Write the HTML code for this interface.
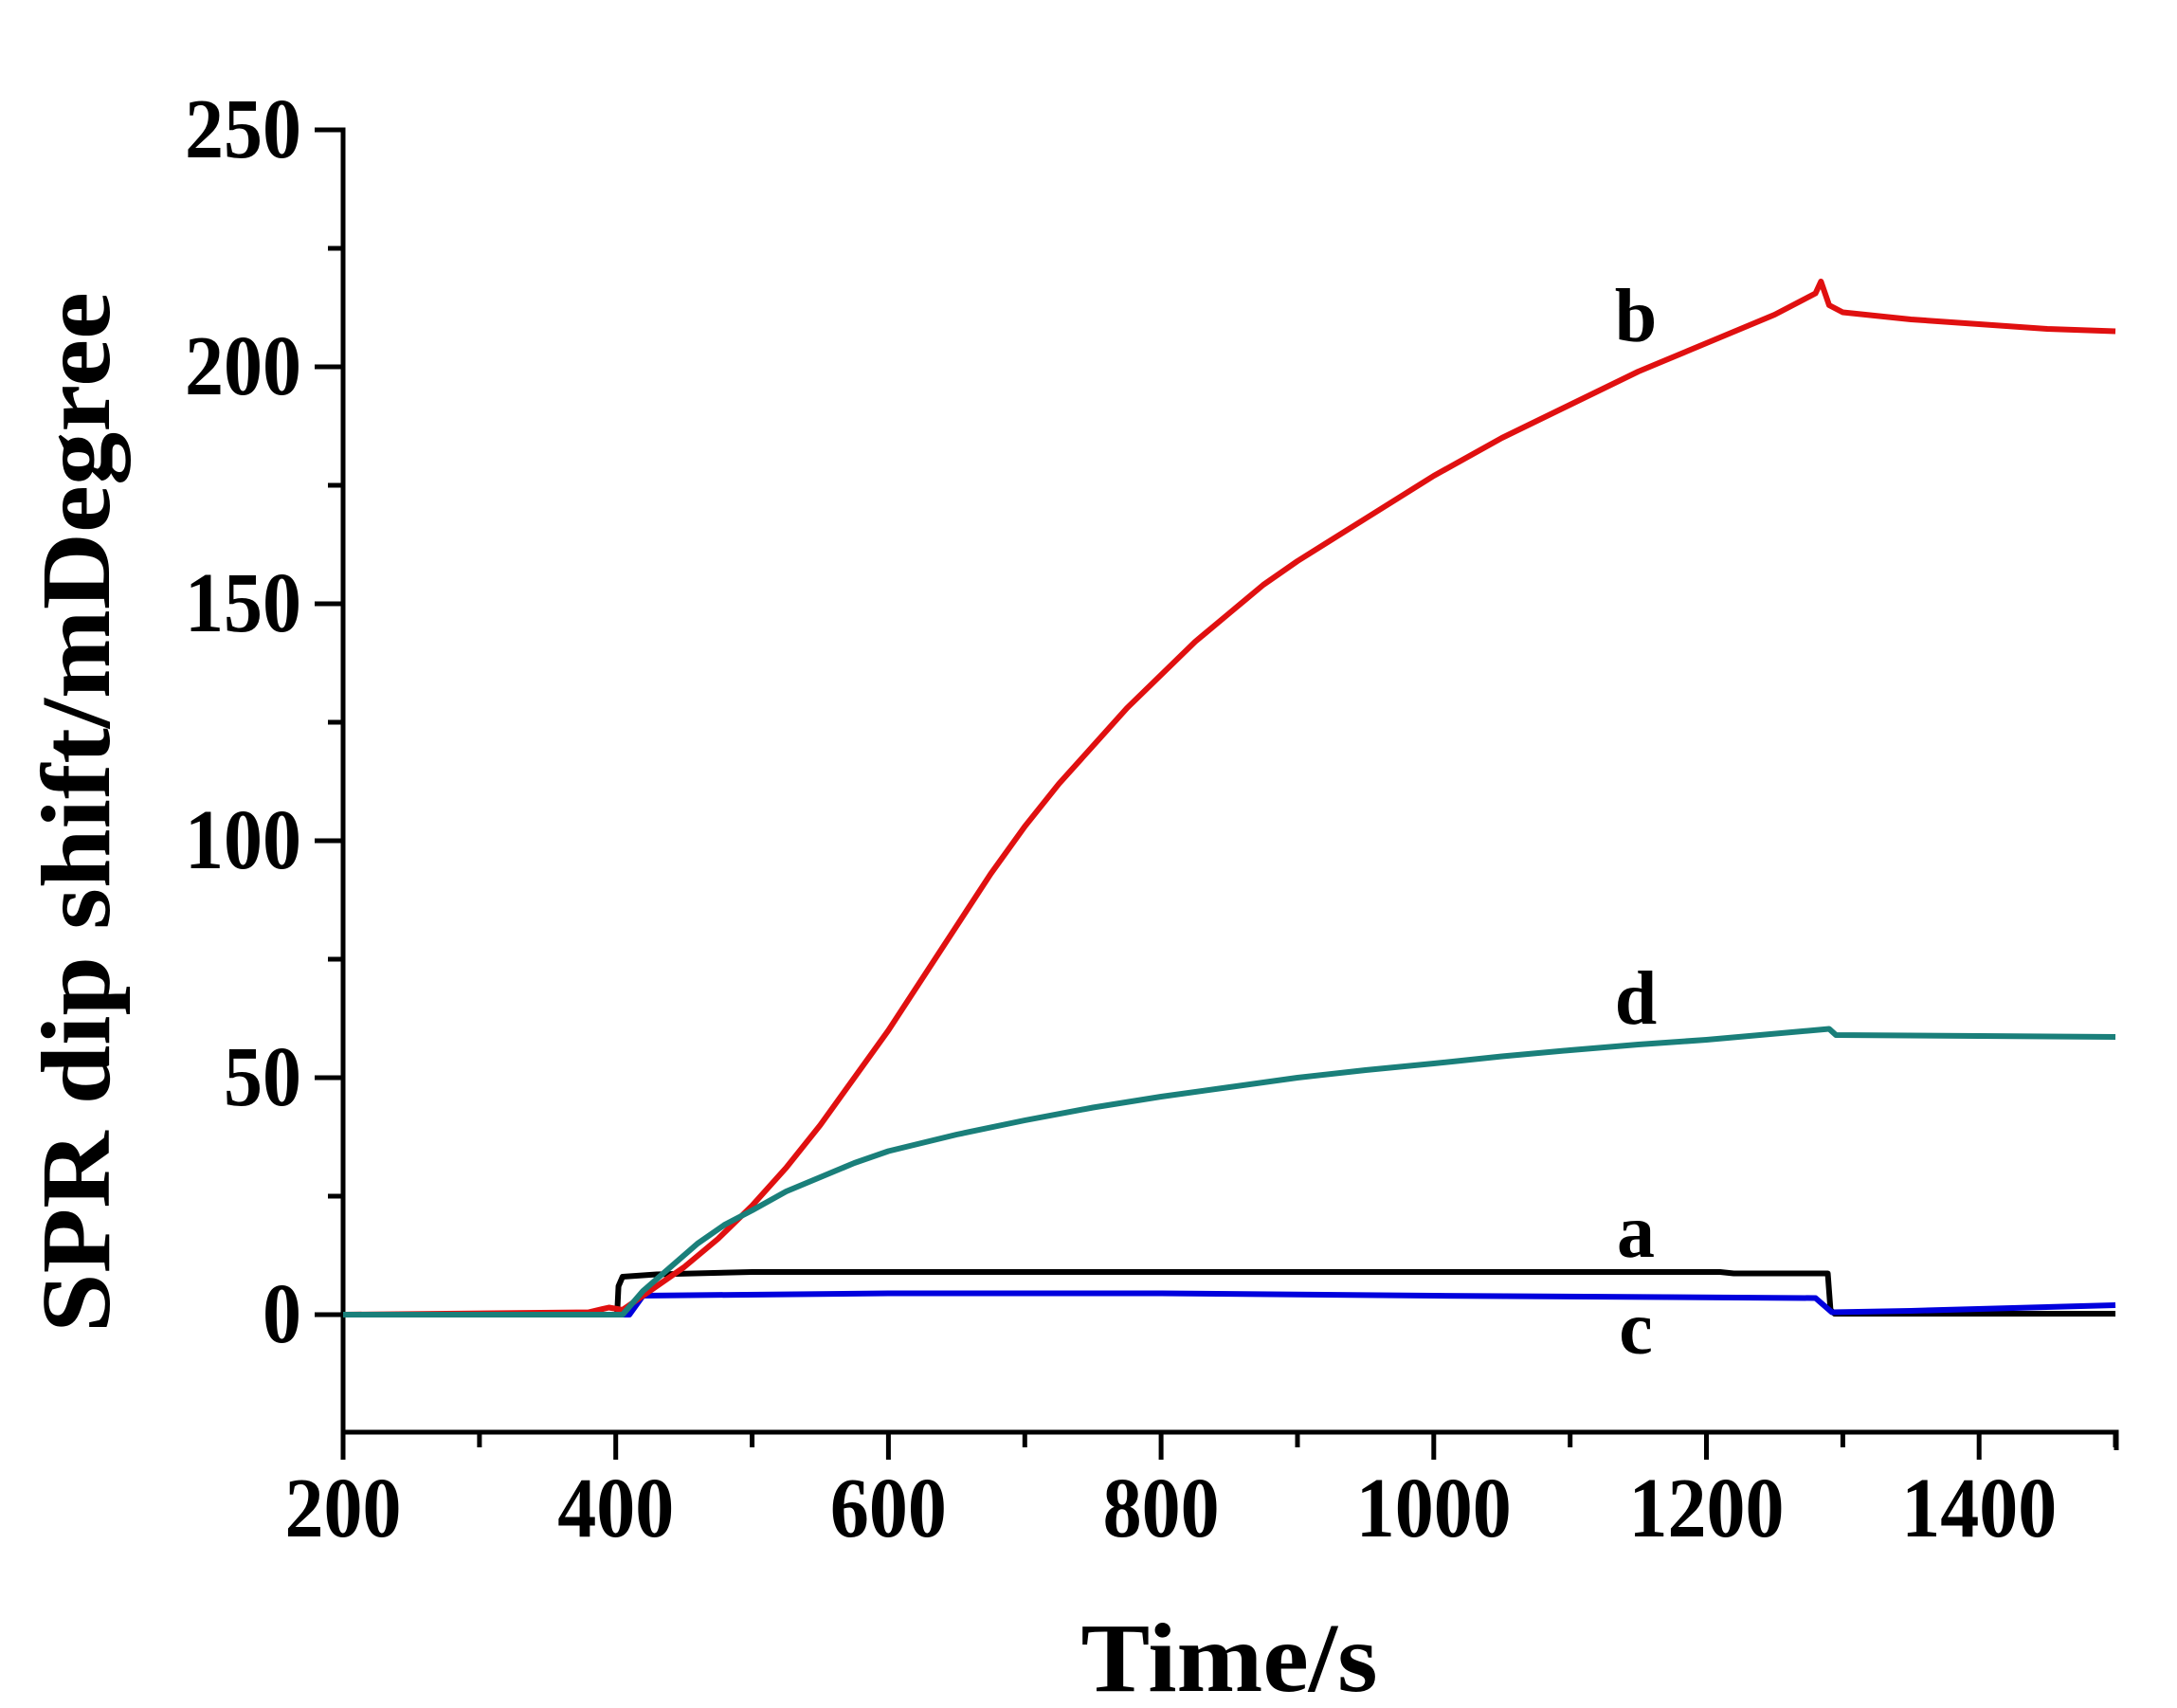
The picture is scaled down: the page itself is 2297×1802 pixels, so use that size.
<!DOCTYPE html>
<html><head><meta charset="utf-8"><style>html,body{margin:0;padding:0;background:#fff}svg{display:block}</style></head>
<body>
<svg width="2297" height="1802" viewBox="0 0 2297 1802" xmlns="http://www.w3.org/2000/svg" font-family="'Liberation Serif', serif" font-weight="bold">
<rect width="2297" height="1802" fill="#fff"/>
<g stroke="#000" stroke-width="5" fill="none">
<path d="M332 137 H362 V1511 H2233 V1530"/>
<path d="M332 387 H362 M332 637 H362 M332 887 H362 M332 1137 H362 M332 1387 H362"/>
<path d="M346 262 H362 M346 512 H362 M346 762 H362 M346 1012 H362 M346 1262 H362"/>
<path d="M362 1511 V1540 M649.7 1511 V1540 M937.4 1511 V1540 M1225.1 1511 V1540 M1512.8 1511 V1540 M1800.5 1511 V1540 M2088.2 1511 V1540"/>
<path d="M505.9 1511 V1527 M793.6 1511 V1527 M1081.3 1511 V1527 M1369 1511 V1527 M1656.7 1511 V1527 M1944.4 1511 V1527 M2232 1511 V1527"/>
</g>
<g font-size="82" text-anchor="end" fill="#000">
<text x="318" y="0" transform="translate(0 166) scale(1 1.1)">250</text>
<text x="318" y="0" transform="translate(0 416) scale(1 1.1)">200</text>
<text x="318" y="0" transform="translate(0 666) scale(1 1.1)">150</text>
<text x="318" y="0" transform="translate(0 916) scale(1 1.1)">100</text>
<text x="318" y="0" transform="translate(0 1166) scale(1 1.1)">50</text>
<text x="318" y="0" transform="translate(0 1416) scale(1 1.1)">0</text>
</g>
<g font-size="82" text-anchor="middle" fill="#000">
<text x="362" y="0" transform="translate(0 1621) scale(1 1.1)">200</text>
<text x="649.7" y="0" transform="translate(0 1621) scale(1 1.1)">400</text>
<text x="937.4" y="0" transform="translate(0 1621) scale(1 1.1)">600</text>
<text x="1225.1" y="0" transform="translate(0 1621) scale(1 1.1)">800</text>
<text x="1512.8" y="0" transform="translate(0 1621) scale(1 1.1)">1000</text>
<text x="1800.5" y="0" transform="translate(0 1621) scale(1 1.1)">1200</text>
<text x="2088.2" y="0" transform="translate(0 1621) scale(1 1.1)">1400</text>
</g>
<text x="1297" y="1784" font-size="104" text-anchor="middle" textLength="313" lengthAdjust="spacingAndGlyphs">Time/s</text>
<text transform="translate(115 857) rotate(-90)" font-size="104" text-anchor="middle" textLength="1098" lengthAdjust="spacingAndGlyphs">SPR dip shift/mDegree</text>
<g font-size="80" text-anchor="middle">
<text x="1726" y="360">b</text>
<text x="1726" y="1080">d</text>
<text x="1726" y="1326">a</text>
<text x="1726" y="1428">c</text>
</g>
<g fill="none" stroke-width="6" stroke-linejoin="round" transform="matrix(1.4385 0 0 -5 74.3 1387)">
<polyline vector-effect="non-scaling-stroke" stroke="#000" points="200,0 401,0 402,6 405,8 430,8.5 500,9 1210,9 1220,8.7 1289,8.7 1291,1 1294,0.2 1500,0.2"/>
<polyline vector-effect="non-scaling-stroke" stroke="#0000dd" points="200,0 410,0 420,4 600,4.5 800,4.5 1000,4 1280,3.5 1292,0.5 1350,0.8 1500,2"/>
<polyline vector-effect="non-scaling-stroke" stroke="#e01010" points="200,0 380,0.5 395,1.5 405,1 420,4 450,10 475,16 500,23 525,31 550,40 575,50 600,60 625,71 650,82 675,93 700,103 725,112 750,120 775,128 800,135 825,142 850,148 875,154 900,159 950,168 1000,177 1050,185 1100,192 1150,199 1200,205 1250,211 1280,215.5 1284,218 1290,213 1300,211.5 1350,210 1400,209 1450,208 1500,207.5"/>
<polyline vector-effect="non-scaling-stroke" stroke="#1a7f7a" points="200,0 405,0 420,5 440,10 460,15 480,19 500,22 525,26 550,29 575,32 600,34.5 650,38 700,41 750,43.7 800,46 850,48 900,50 950,51.6 1000,53 1050,54.5 1100,55.8 1150,57 1200,58 1290,60.3 1295,59 1400,58.8 1500,58.6"/>
</g>
</svg>
</body></html>
